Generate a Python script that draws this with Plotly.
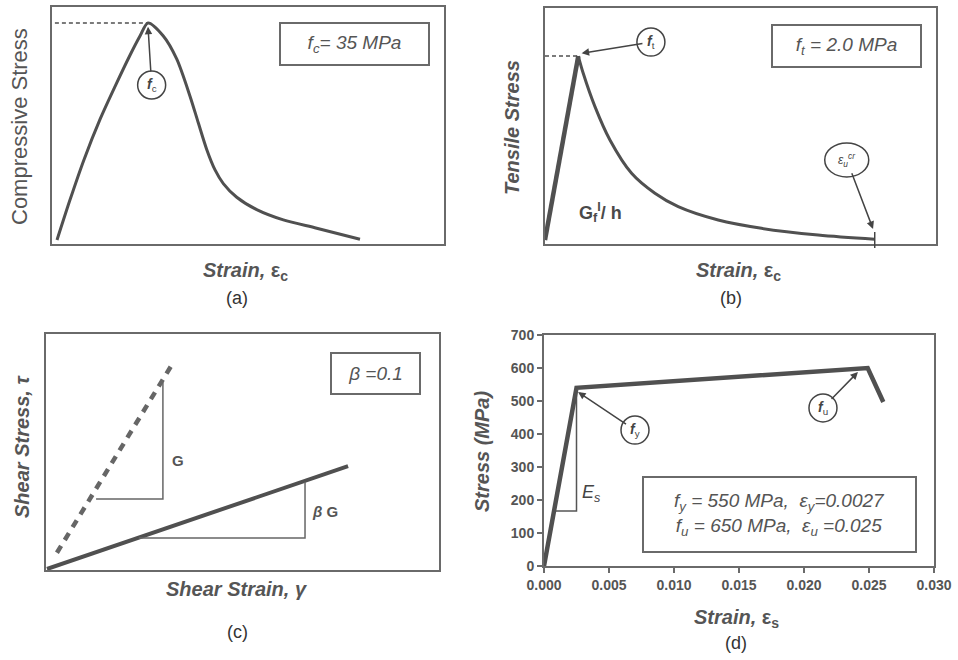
import plotly.graph_objects as go

W, H = 958, 660
FONT = "Liberation Sans"
LINE = "#505050"
BOX = "#6a6a6a"
TXT = "#555555"

# ---------------- data ----------------
# (a) compressive stress-strain (MPa)
comp_strain = [0, 0.000286, 0.000593, 0.000945, 0.001297, 0.001604, 0.001824, 0.0020,
               0.002336, 0.00263, 0.002923, 0.003105, 0.00329, 0.003473, 0.003655,
               0.00395, 0.004389, 0.004974, 0.005708, 0.006659]
comp_stress = [0, 6.48, 12.96, 19.45, 25.1, 29.8, 32.9, 35.0,
               32.9, 29.2, 23.2, 18.9, 14.6, 11.3, 9.1,
               6.9, 4.9, 3.24, 1.9, 0.11]
fc = 35.0
eps_c0 = 0.0020

# (b) tensile stress-strain (MPa)
ten_rise_strain = [0, 0.0001]
ten_rise_stress = [0, 2.0]
ten_soft_strain = [0.0001, 0.000115, 0.000150, 0.000195, 0.00026, 0.00033, 0.0004,
                   0.00052, 0.00065, 0.00082, 0.00099]
ten_soft_stress = [2.0, 1.81, 1.45, 1.087, 0.725, 0.508, 0.362,
                   0.217, 0.127, 0.054, 0.008]
ft = 2.0
eps_u_cr = 0.00099

# (c) shear
shear_strain_red = [0, 10.0]
shear_stress_red = [0, 3.42]
shear_strain_G = [0.33, 4.15]
shear_stress_G = [0.54, 6.79]
triG_x = [1.63, 3.85, 3.85]
triG_y = [2.33, 2.33, 6.21]
tribG_x = [3.05, 8.57, 8.57]
tribG_y = [1.03, 1.03, 2.90]

# (d) steel
steel_strain = [0, 0.0025, 0.0249, 0.0261]
steel_stress = [0, 540, 600, 497]
Es_tri_x = [0.00083, 0.0025, 0.0025]
Es_tri_y = [167, 167, 540]
x_ticks_d = [0, 0.005, 0.010, 0.015, 0.020, 0.025, 0.030]
y_ticks_d = [0, 100, 200, 300, 400, 500, 600, 700]


def dom_x(p0, p1):
    return [p0 / W, p1 / W]


def dom_y(top, bottom):
    return [1 - bottom / H, 1 - top / H]


def px(p):
    return p / W


def py(p):
    return 1 - p / H


fig = go.Figure()

# ---- (a)
fig.add_trace(go.Scatter(x=comp_strain, y=comp_stress, mode="lines",
                         line=dict(color=LINE, width=3, shape="spline", smoothing=0.8),
                         xaxis="x", yaxis="y", hoverinfo="skip"))
fig.add_trace(go.Scatter(x=[-0.0002, eps_c0], y=[fc, fc], mode="lines",
                         line=dict(color=LINE, width=1.5, dash="4px,3px"),
                         xaxis="x", yaxis="y", hoverinfo="skip"))
# ---- (b)
fig.add_trace(go.Scatter(x=ten_rise_strain, y=ten_rise_stress, mode="lines",
                         line=dict(color=LINE, width=4.5),
                         xaxis="x2", yaxis="y2", hoverinfo="skip"))
fig.add_trace(go.Scatter(x=ten_soft_strain, y=ten_soft_stress, mode="lines",
                         line=dict(color=LINE, width=3, shape="spline", smoothing=0.9),
                         xaxis="x2", yaxis="y2", hoverinfo="skip"))
fig.add_trace(go.Scatter(x=[0, ten_rise_strain[1]], y=[ft, ft], mode="lines",
                         line=dict(color=LINE, width=1.5, dash="4px,3px"),
                         xaxis="x2", yaxis="y2", hoverinfo="skip"))
# ---- (c)
fig.add_trace(go.Scatter(x=shear_strain_red, y=shear_stress_red, mode="lines",
                         line=dict(color=LINE, width=4),
                         xaxis="x3", yaxis="y3", hoverinfo="skip"))
fig.add_trace(go.Scatter(x=shear_strain_G, y=shear_stress_G, mode="lines",
                         line=dict(color="#666666", width=4.5, dash="8px,7px"),
                         xaxis="x3", yaxis="y3", hoverinfo="skip"))
fig.add_trace(go.Scatter(x=triG_x, y=triG_y, mode="lines",
                         line=dict(color="#666666", width=1.5),
                         xaxis="x3", yaxis="y3", hoverinfo="skip"))
fig.add_trace(go.Scatter(x=tribG_x, y=tribG_y, mode="lines",
                         line=dict(color="#666666", width=1.5),
                         xaxis="x3", yaxis="y3", hoverinfo="skip"))
# ---- (d)
fig.add_trace(go.Scatter(x=Es_tri_x, y=Es_tri_y, mode="lines",
                         line=dict(color="#555555", width=1.5),
                         xaxis="x4", yaxis="y4", hoverinfo="skip"))
fig.add_trace(go.Scatter(x=steel_strain, y=steel_stress, mode="lines",
                         line=dict(color=LINE, width=4.5),
                         xaxis="x4", yaxis="y4", hoverinfo="skip"))

blank = dict(showline=True, mirror=True, linecolor=BOX, linewidth=2, showgrid=False,
             zeroline=False, showticklabels=False, ticks="", fixedrange=True,
             automargin=False)

tickfont = dict(family=FONT, size=14, color=TXT, weight="bold")

layout = dict(
    width=W, height=H,
    margin=dict(l=0, r=0, t=0, b=0, pad=0, autoexpand=False),
    paper_bgcolor="white", plot_bgcolor="white", showlegend=False,
    font=dict(family=FONT, color=TXT),
    xaxis=dict(domain=dom_x(52, 444), range=[-0.00011, 0.008505], anchor="y", **blank),
    yaxis=dict(domain=dom_y(7, 244), range=[-0.645, 37.58], anchor="x", **blank),
    xaxis2=dict(domain=dom_x(545, 936), range=[0, 0.001174], anchor="y2", **blank),
    yaxis2=dict(domain=dom_y(8, 244), range=[-0.0435, 2.522], anchor="x2", **blank),
    xaxis3=dict(domain=dom_x(46, 439), range=[-0.033, 13.02], anchor="y3", **blank),
    yaxis3=dict(domain=dom_y(334, 570), range=[-0.033, 7.81], anchor="x3", **blank),
    xaxis4=dict(domain=dom_x(544, 934), range=[0, 0.030], anchor="y4",
                showline=True, mirror=True, linecolor=BOX, linewidth=2, showgrid=False,
                zeroline=False, ticks="outside", ticklen=5, tickwidth=1.5, tickcolor=BOX,
                tickvals=x_ticks_d, tickformat=".3f", tickfont=tickfont,
                fixedrange=True, automargin=False),
    yaxis4=dict(domain=dom_y(335, 566), range=[0, 700], anchor="x4",
                showline=True, mirror=True, linecolor=BOX, linewidth=2, showgrid=False,
                zeroline=False, ticks="outside", ticklen=5, tickwidth=1.5, tickcolor=BOX,
                tickvals=y_ticks_d, tickfont=tickfont,
                fixedrange=True, automargin=False),
)

ann = []
shapes = []


def paper_text(x, y, text, size, color=TXT, angle=0):
    ann.append(dict(x=px(x), y=py(y), xref="paper", yref="paper", text=text,
                    showarrow=False, textangle=angle, xanchor="center", yanchor="middle",
                    font=dict(family=FONT, size=size, color=color)))


def boxed(x, y, w, h, text, size):
    ann.append(dict(x=px(x), y=py(y), xref="paper", yref="paper", text=text,
                    showarrow=False, xanchor="center", yanchor="middle",
                    width=w, height=h, bordercolor=BOX, borderwidth=2, borderpad=0,
                    bgcolor="white", align="center", valign="middle",
                    font=dict(family=FONT, size=size, color=TXT)))


def callout(xr, yr, cx, cy, tx, ty, text, rx=14, ry=14, size=14):
    shapes.append(dict(type="circle", xref=xr, yref=yr, xsizemode="pixel",
                       ysizemode="pixel", xanchor=cx, yanchor=cy,
                       x0=-rx, x1=rx, y0=-ry, y1=ry,
                       line=dict(color="#444444", width=1.5), fillcolor="white",
                       layer="above"))
    ann.append(dict(x=tx, y=ty, xref=xr, yref=yr, ax=cx, ay=cy, axref=xr, ayref=yr,
                    text=text, showarrow=True, arrowhead=2, arrowsize=1,
                    arrowwidth=1.5, arrowcolor="#444444", startstandoff=3,
                    font=dict(family=FONT, size=size, color="#444444")))


# axis titles & panel labels
paper_text(20, 127, "Compressive Stress", 22, angle=-90)
paper_text(245, 271, "<b><i>Strain, </i>ε<sub>c</sub></b>", 20)
paper_text(237, 298, "(a)", 18, color="#333333")

paper_text(512, 127, "<b><i>Tensile Stress</i></b>", 20, angle=-90)
paper_text(738, 271, "<b><i>Strain, </i>ε<sub>c</sub></b>", 20)
paper_text(731, 298, "(b)", 18, color="#333333")

paper_text(22, 447, "<b><i>Shear Stress, τ</i></b>", 20, angle=-90)
paper_text(237, 589, "<b><i>Shear Strain, γ</i></b>", 20)
paper_text(237, 632, "(c)", 18, color="#333333")

paper_text(482, 452, "<b><i>Stress (MPa)</i></b>", 20, angle=-90)
paper_text(736, 618, "<b><i>Strain, </i>ε<sub>s</sub></b>", 20)
paper_text(736, 643, "(d)", 18, color="#333333")

# boxed legends
boxed(354, 44.5, 147, 40, "<i>f<sub>c</sub>= 35 MPa</i>", 19)
boxed(846, 45.5, 147, 40, "<i>f<sub>t</sub> = 2.0 MPa</i>", 19)
boxed(375, 373, 87, 39, "<i>β =0.1</i>", 19)
boxed(779, 514, 271, 73,
      "<i>f<sub>y</sub> = 550 MPa,&nbsp; ε<sub>y</sub>=0.0027</i><br>"
      "<i>f<sub>u</sub> = 650 MPa,&nbsp; ε<sub>u</sub> =0.025</i>", 19)

# callouts
callout("x", "y", 0.00208, 25.0, eps_c0, 34.4, "<b><i>f</i></b><sub>c</sub>", size=14)
callout("x2", "y2", 0.000318, 2.152, 0.00011, 2.03, "<b><i>f</i></b><sub>t</sub>", size=14)
callout("x2", "y2", 0.000906, 0.87, 0.000985, 0.12,
        "<i>ε<sub>u</sub><sup>cr</sup></i>", rx=22, ry=17, size=12)
callout("x4", "y4", 0.0070, 412, 0.00262, 527, "<b><i>f</i></b><sub>y</sub>", size=14)
callout("x4", "y4", 0.02146, 479, 0.02415, 588, "<b><i>f</i></b><sub>u</sub>", size=14)

# in-plot labels
ann.append(dict(x=0.000168, y=0.30, xref="x2", yref="y2", showarrow=False,
                text="<b>G<sub>f</sub><sup>I</sup>/ h</b>",
                font=dict(family=FONT, size=18, color="#4a4a4a")))
ann.append(dict(x=4.1, y=3.6, xref="x3", yref="y3", showarrow=False, xanchor="left",
                text="<b>G</b>", font=dict(family=FONT, size=15, color="#555555")))
ann.append(dict(x=8.75, y=1.92, xref="x3", yref="y3", showarrow=False, xanchor="left",
                text="<b><i>β</i> G</b>", font=dict(family=FONT, size=15, color="#555555")))
ann.append(dict(x=0.0028, y=221, xref="x4", yref="y4", showarrow=False, xanchor="left",
                text="<i>E<sub>s</sub></i>", font=dict(family=FONT, size=18, color="#444444")))

# end-of-softening tick mark in (b)
shapes.append(dict(type="line", xref="x2", yref="paper", x0=eps_u_cr, x1=eps_u_cr,
                   y0=py(248), y1=py(232), line=dict(color="#444444", width=1.5)))

layout["annotations"] = ann
layout["shapes"] = shapes
fig.update_layout(**layout)
fig.write_html("out.html",
               config={"displayModeBar": False, "staticPlot": True},
               post_script="document.body.style.margin='0';"
                           "document.body.style.overflow='hidden';")
